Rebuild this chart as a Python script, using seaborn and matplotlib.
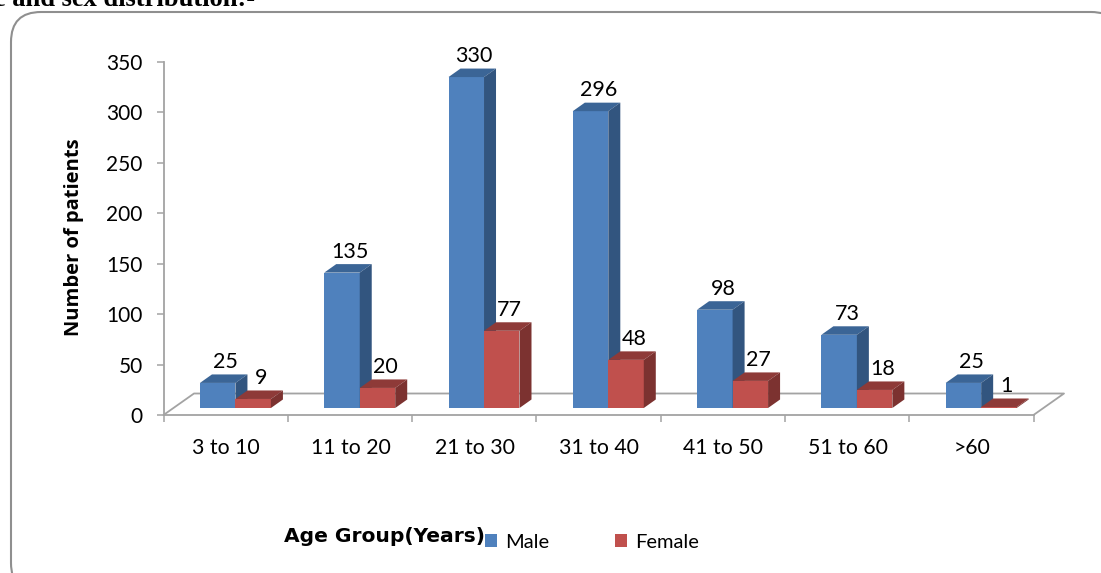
import matplotlib
matplotlib.use("Agg")
import matplotlib.pyplot as plt
import pandas as pd
import seaborn as sns
from matplotlib.patches import FancyBboxPatch, Polygon
from matplotlib.transforms import IdentityTransform

age_groups = ["3 to 10", "11 to 20", "21 to 30", "31 to 40", "41 to 50", "51 to 60", ">60"]
male = [25, 135, 330, 296, 98, 73, 25]
female = [9, 20, 77, 48, 27, 18, 1]
series_names = ["Male", "Female"]
y_ticks = [0, 50, 100, 150, 200, 250, 300, 350]

W, H = 1101, 573
FRONT = {"Male": "#4f81bd", "Female": "#c0504d"}
TOP = {"Male": "#3b6596", "Female": "#8e3a38"}
SIDE = {"Male": "#32557f", "Female": "#7c3230"}
GREY = "#a3a3a3"

sns.set_theme(style="white")
plt.rcParams["font.family"] = ["Lato", "DejaVu Sans"]

df = pd.DataFrame({
    "Age": age_groups * 2,
    "Sex": ["Male"] * len(male) + ["Female"] * len(female),
    "Patients": male + female,
})

fig = plt.figure(figsize=(W / 100, H / 100), dpi=100)
fig.patch.set_facecolor("white")


def rect(left, base, width, height):
    return [left / W, (H - base) / H, width / W, height / H]


# Rounded outer frame (runs past the right and bottom edges of the picture)
frame = FancyBboxPatch((11, -20), 1110, H - 12 + 20,
                       boxstyle="round,pad=0,rounding_size=30",
                       transform=IdentityTransform(), fc="white", ec="#8f8f8f", lw=1.5, zorder=0)
fig.add_artist(frame)

fig.text(255 / W, (H - 6) / H, "e and sex distribution:-", ha="right", va="baseline",
         family="Liberation Serif", weight="bold", fontsize=19.1, color="black")

# Axis frame: the front edge of the 3-D floor carries the ticks
ax = fig.add_axes(rect(163.5, 415, 870, 353))
ax.patch.set_visible(False)
ax.set_xlim(-0.5, len(age_groups) - 0.5)
ax.set_ylim(0, 350)
ax.set_yticks(y_ticks)
ax.set_xticks([i - 0.5 for i in range(len(age_groups) + 1)])
ax.set_xticklabels([])
for i, label in enumerate(age_groups):
    ax.annotate(label, (i, 0), xytext=(0.5, -33.5 * 0.72), textcoords="offset points",
                ha="center", va="center", fontsize=15.3, color="black")
ax.tick_params(axis="both", length=5, width=1.1, color=GREY, left=True, bottom=True)
ax.tick_params(axis="y", labelsize=15, pad=10, labelcolor="black")
for s in ("top", "right"):
    ax.spines[s].set_visible(False)
for s in ("left", "bottom"):
    ax.spines[s].set_color(GREY)
    ax.spines[s].set_linewidth(1.3)

# Floor of the 3-D plot
floor_dx, floor_dy = 30.5 / (870 / 7), 21.5 / (353 / 350)
x0, x1 = -0.5, len(age_groups) - 0.5
ax.plot([x0, x0 + floor_dx, x1 + floor_dx, x1], [0, floor_dy, floor_dy, 0],
        color=GREY, lw=1.3, clip_on=False, zorder=1)

fig.text(74.5 / W, (H - 237) / H, "Number of patients", rotation=90, ha="center", va="center",
         family=["Open Sans", "DejaVu Sans"], weight="bold", fontsize=14.5, color="black")
fig.text(384 / W, (H - 537) / H, "Age Group(Years)", ha="center", va="center",
         family=["DejaVu Sans"], weight="bold", fontsize=14.6, color="black")

# Bars: front faces from seaborn, on a plane 7 px above the axis line
axb = fig.add_axes(rect(173.3, 408, 870, 351))
axb.patch.set_visible(False)
sns.barplot(data=df, x="Age", y="Patients", hue="Sex", order=age_groups, hue_order=series_names,
            palette=FRONT, saturation=1, width=0.571, gap=0, dodge=True, legend=False, ax=axb,
            linewidth=0)
axb.set_xlim(-0.5, len(age_groups) - 0.5)
axb.set_ylim(0, 350)
axb.axis("off")

depth_x = 12 / (870 / 7)
depth_y = 8.5 / (351 / 350)
for order, (name, container) in enumerate(zip(series_names, axb.containers)):
    for bar in container:
        bar.set_zorder(3 + 2 * order)
        bx, bw, bh = bar.get_x(), bar.get_width(), bar.get_height()
        z = 3 + 2 * order + 1
        axb.add_patch(Polygon([(bx, bh), (bx + depth_x, bh + depth_y),
                               (bx + bw + depth_x, bh + depth_y), (bx + bw, bh)],
                              closed=True, fc=TOP[name], ec="none", zorder=z, clip_on=False))
        axb.add_patch(Polygon([(bx + bw, 0), (bx + bw + depth_x, depth_y),
                               (bx + bw + depth_x, bh + depth_y), (bx + bw, bh)],
                              closed=True, fc=SIDE[name], ec="none", zorder=z, clip_on=False))
        axb.annotate(f"{bh:.0f}", (bx + bw / 2, bh), xytext=(8 * 0.72, 15 * 0.72),
                     textcoords="offset points", ha="center", va="baseline",
                     fontsize=15.5, color="black", annotation_clip=False, zorder=10)

fig.legend(axb.containers, series_names, loc="center left",
           bbox_to_anchor=(485 / W, (H - 542) / H), ncol=2, frameon=False, fontsize=14.5,
           handlelength=0.62, handleheight=0.62, handletextpad=0.38, columnspacing=3.25,
           borderpad=0, borderaxespad=0, labelcolor="black")

fig.savefig("out.png", dpi=100)
